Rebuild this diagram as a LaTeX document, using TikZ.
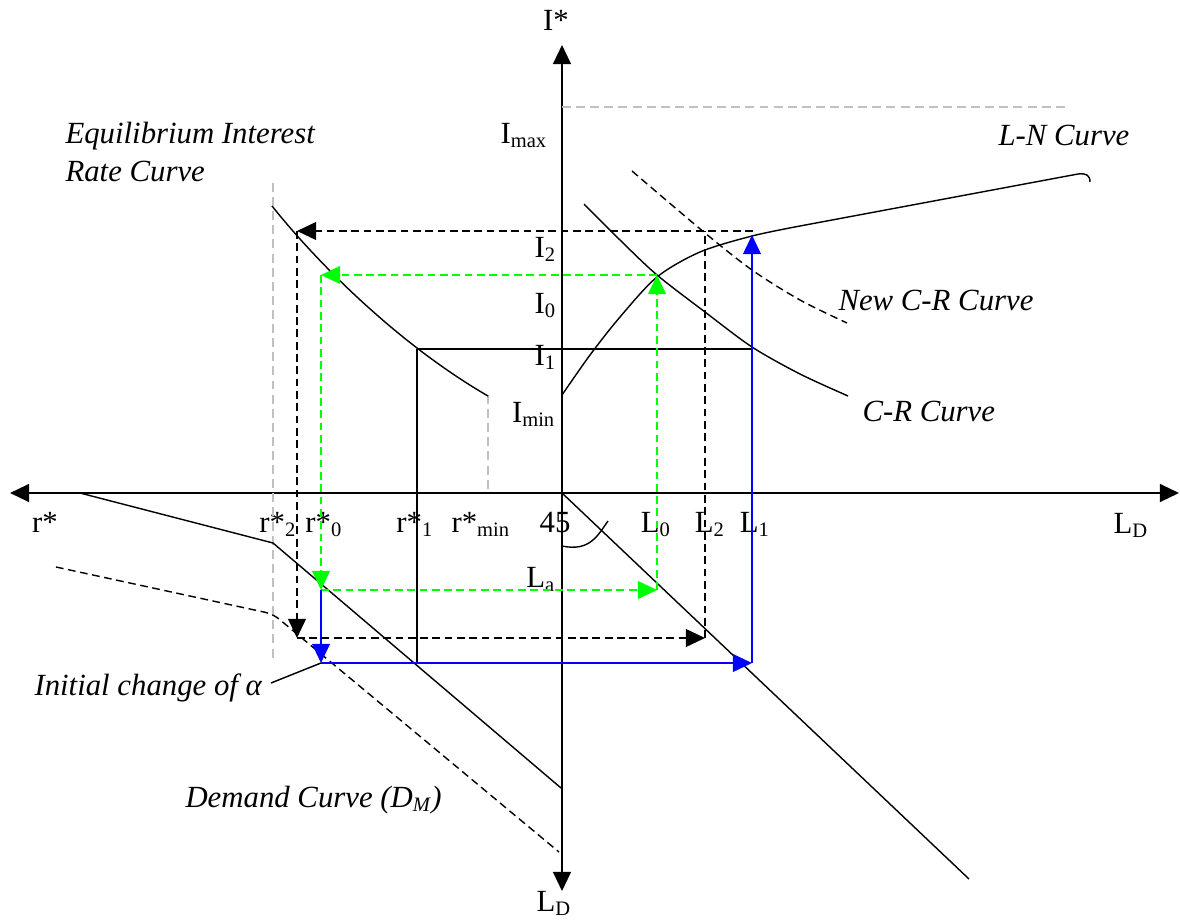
\documentclass[tikz,border=0pt]{standalone}
\usepackage{fontspec}
\setmainfont{Liberation Serif}
\usetikzlibrary{arrows.meta}
\definecolor{flowgreen}{RGB}{0,255,0}
\definecolor{flowblue}{RGB}{0,0,255}
\definecolor{guidegray}{RGB}{192,192,192}
\tikzset{
  lbl/.style={font=\fontsize{12}{14}\selectfont, inner sep=0pt},
  curvelbl/.style={font=\fontsize{12}{14.5}\selectfont\itshape, inner sep=0pt, align=left},
  axisline/.style={line width=0.8pt},
  curveline/.style={line width=0.55pt},
  dashline/.style={curveline, dash pattern=on 3pt off 1.8pt},
  greendash/.style={dashline, flowgreen},
  bluepath/.style={curveline, flowblue},
  guideline/.style={line width=0.55pt, guidegray, dash pattern=on 3.5pt off 2pt}
}

\begin{document}
\begin{tikzpicture}[x=0.0137cm, y=-0.0137cm, >={Triangle[length=7.5pt,width=7pt]}]
  \useasboundingbox (0,0) rectangle (1180,922);

  % axes
  \coordinate (O) at (562,493);
  \coordinate (xleft) at (10,493);
  \coordinate (xright) at (1179,493);
  \coordinate (ytop) at (562,45);
  \coordinate (ybot) at (562,891);
  \draw[axisline,<->] (xleft) -- (xright);
  \draw[axisline,<->] (ybot) -- (ytop);

  % axis labels
  \node[lbl] (istar) at (556,20) {I*};
  \node[lbl,anchor=base] (ldbot) at (554,911) {L\textsubscript{D}};
  \node[lbl,anchor=base] (rstar) at (45,532) {r*};
  \node[lbl,anchor=base] (ldright) at (1131,533) {L\textsubscript{D}};

  % labels on the I* axis
  \node[lbl,anchor=base east] (imax) at (548,143) {I\textsubscript{max}};
  \node[lbl,anchor=base east] (itwo) at (557,257) {I\textsubscript{2}};
  \node[lbl,anchor=base east] (izero) at (557,313) {I\textsubscript{0}};
  \node[lbl,anchor=base east] (ione) at (557,365) {I\textsubscript{1}};
  \node[lbl,anchor=base east] (imin) at (556,422) {I\textsubscript{min}};

  % labels on the horizontal axis
  \node[lbl,anchor=base] (rtwo) at (278,532) {r*\textsubscript{2}};
  \node[lbl,anchor=base] (rzero) at (324,532) {r*\textsubscript{0}};
  \node[lbl,anchor=base] (rone) at (415,532) {r*\textsubscript{1}};
  \node[lbl,anchor=base] (rmin) at (481,532) {r*\textsubscript{min}};
  \node[lbl,anchor=base] (fortyfive) at (555,532) {45};
  \node[lbl,anchor=base] (lzero) at (656,532) {L\textsubscript{0}};
  \node[lbl,anchor=base] (ltwo) at (710,532) {L\textsubscript{2}};
  \node[lbl,anchor=base] (lone) at (755,532) {L\textsubscript{1}};
  \node[lbl,anchor=base east] (la) at (556,587) {L\textsubscript{a}};

  % curve names
  \node[curvelbl,anchor=base west] (eqlbl) at (65,181) {Equilibrium Interest\\Rate Curve};
  \node[curvelbl,anchor=base west] (lnlbl) at (998,145) {L-N Curve};
  \node[curvelbl,anchor=base west] (newcrlbl) at (838,310) {New C-R Curve};
  \node[curvelbl,anchor=base west] (crlbl) at (862,421) {C-R Curve};
  \node[curvelbl,anchor=base west] (inilbl) at (34,695) {Initial change of \textit{α}};
  \node[curvelbl,anchor=base west] (demlbl) at (185,807) {Demand Curve (D\textsubscript{M})};

  % grey guide lines
  \draw[guideline] (562,107) -- (1068,107);
  \draw[guideline] (273,183) -- (273,662);
  \draw[guideline] (488,395) -- (488,493);

  % curves
  \draw[curveline] (272,206) .. controls (320,266) and (400,345) .. (488,396);
  \draw[curveline] plot[smooth] coordinates {(562,395) (590,355) (620,317) (657,277) (700,252) (752,236) (800,226)}
    -- (1078,174) .. controls (1086,173) and (1090,175) .. (1090,182);
  \draw[curveline] plot[smooth] coordinates {(584,204) (620,240) (657,275) (705,312) (752,347) (800,374) (848,396)};
  \draw[dashline] plot[smooth] coordinates {(632,171) (705,233) (752,270) (800,300) (847,323)};
  \coordinate (diagend) at (969,879);
  \draw[curveline] (O) -- (diagend);
  \coordinate (arcS) at (562,546);
  \coordinate (arcE) at (608,521);
  \draw[curveline] (arcS) .. controls (590,552) and (598,535) .. (arcE);
  \draw[curveline] (80,493) -- (273,543) -- (561,788);
  \draw[dashline, rounded corners=3pt] (56,567) -- (273,614) -- (559,852);

  % path points
  \coordinate (A2) at (297,231);
  \coordinate (B2) at (297,638);
  \coordinate (C2) at (705,638);
  \coordinate (D2) at (705,231);
  \coordinate (E2) at (753,231);
  \coordinate (A0) at (321,275);
  \coordinate (B0) at (321,590);
  \coordinate (C0) at (657,590);
  \coordinate (D0) at (657,275);
  \coordinate (A1) at (417,349);
  \coordinate (B1) at (417,663);
  \coordinate (D1) at (752,349);
  \coordinate (P1) at (321,663);
  \coordinate (C1) at (752,663);
  \coordinate (E1) at (752,235);
  \coordinate (alphaptr) at (271,683);

  % pointer to the initial change
  \draw[curveline] (alphaptr) -- (P1);

  % first move (solid)
  \draw[curveline] (A1) -- (D1);
  \draw[curveline] (A1) -- (B1);

  % second move (black dashed)
  \draw[dashline,->] (E2) -- (A2);
  \draw[dashline,->] (A2) -- (B2);
  \draw[dashline,->] (B2) -- (C2);
  \draw[dashline] (C2) -- (D2);

  % start (green dashed)
  \draw[greendash,->] (D0) -- (A0);
  \draw[greendash,->] (A0) -- (B0);
  \draw[greendash,->] (B0) -- (C0);
  \draw[greendash,->] (C0) -- (D0);

  % shift of alpha (blue)
  \draw[bluepath,->] (B0) -- (P1);
  \draw[bluepath,->] (P1) -- (C1);
  \draw[bluepath,->] (C1) -- (E1);
\end{tikzpicture}
\end{document}
